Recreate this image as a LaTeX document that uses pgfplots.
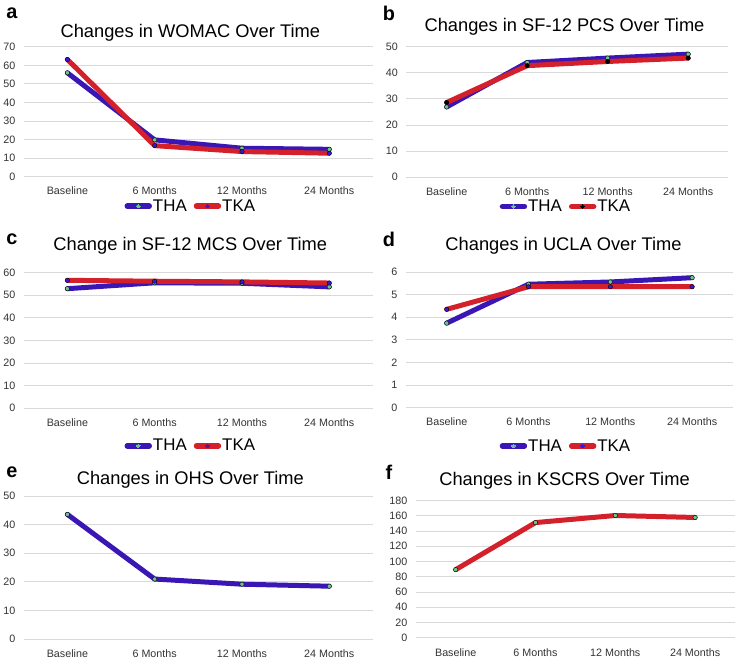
\documentclass[border=0pt]{standalone}
\usepackage{pgfplots}
\pgfplotsset{compat=1.18}
\usepackage{fontspec}
\setmainfont{Liberation Sans}

\definecolor{thablue}{HTML}{3A17B5}
\definecolor{tkared}{HTML}{D3202A}
\definecolor{dotgreen}{HTML}{6CC58A}
\definecolor{dotblue}{HTML}{3A17D0}
\definecolor{gridgray}{HTML}{D9D9D9}

% x = 0 Baseline, 1 = 6 months, 2 = 12 months, 3 = 24 months
\pgfplotstableread{
x  tha   tka
0  56.0  63.2
1  19.8  16.7
2  15.3  13.5
3  14.7  12.6
}\womac
\pgfplotstableread{
x  tha   tka
0  26.9  28.6
1  43.9  42.7
2  45.6  44.3
3  47.1  45.6
}\pcs
\pgfplotstableread{
x  tha   tka
0  52.9  56.6
1  55.5  56.2
2  55.3  55.9
3  53.7  55.4
}\mcs
\pgfplotstableread{
x  tha   tka
0  3.74  4.35
1  5.46  5.35
2  5.56  5.35
3  5.75  5.35
}\ucla
\pgfplotstableread{
x  tha
0  43.6
1  21.0
2  19.2
3  18.5
}\ohs
\pgfplotstableread{
x  tka
0  89.3
1  151.0
2  160.3
3  157.7
}\kscrs

\pgfplotsset{
  panel/.style={
    scale only axis, anchor=south west,
    xmin=-0.5, xmax=3.5, ymin=0,
    axis line style={draw=none}, tick style={draw=none},
    ymajorgrids, grid style={gridgray, line width=0.9bp},
    xtick={0,1,2,3},
    xticklabels={Baseline,6 Months,12 Months,24 Months},
    ticklabel style={font=\fontsize{10.8}{12}\selectfont, text=black!80},
    /pgf/number format/assume math mode=true,
    yticklabel style={xshift=-5bp},
    xticklabel style={yshift=-7bp},
    title style={font=\fontsize{18.4}{22}\selectfont, anchor=base},
    legend style={draw=none, fill=none, anchor=center, legend columns=2,
      font=\fontsize{17}{20}\selectfont, inner sep=0pt,
      nodes={inner xsep=1bp, inner ysep=1bp},
      /tikz/every even column/.append style={column sep=6bp}},
    clip=false,
  },
  thaline/.style={thablue, line width=5bp, line join=round, line cap=round, mark=none},
  tkaline/.style={tkared, line width=5bp, line join=round, line cap=round, mark=none},
  dots/.style={only marks, mark=*, mark size=2.2bp, mark options={draw=none, fill=#1}, forget plot},
  thaleg/.style={legend image code/.code={
      \draw[thablue, line width=5.5bp] (0bp,0bp) -- (22bp,0bp);
      \fill[dotgreen, line width=0pt] (11bp,0bp) circle[radius=1.8bp];}},
  tkaleg/.style={legend image code/.code={
      \draw[tkared, line width=5.5bp] (0bp,0bp) -- (22bp,0bp);
      \fill[#1, line width=0pt] (11bp,0bp) circle[radius=1.8bp];}},
}

\begin{document}
\begin{tikzpicture}
\path (0,0) rectangle (737bp,659bp);

% a
\begin{axis}[panel, at={(22bp,482bp)}, width=350bp, height=130bp,
  ymax=70, ytick={0,10,...,70},
  title={Changes in WOMAC Over Time}, title style={at={(0.477,1.027)}},
  legend style={at={(0.477,-0.228)}}]
\addplot[thaline, thaleg] table[x=x, y=tha] {\womac};
\addplot[tkaline, tkaleg=dotblue] table[x=x, y=tka] {\womac};
\addplot[dots=dotgreen] table[x=x, y=tha] {\womac};
\addplot[dots=dotblue] table[x=x, y=tka] {\womac};
\legend{THA,TKA}
\end{axis}

% b
\begin{axis}[panel, at={(405.6bp,481.3bp)}, width=322.8bp, height=131bp,
  ymax=50, ytick={0,10,...,50},
  title={Changes in SF-12 PCS Over Time}, title style={at={(0.491,1.072)}},
  legend style={at={(0.494,-0.224)}}]
\addplot[thaline, thaleg] table[x=x, y=tha] {\pcs};
\addplot[tkaline, tkaleg=black] table[x=x, y=tka] {\pcs};
\addplot[dots=dotgreen] table[x=x, y=tha] {\pcs};
\addplot[dots=black] table[x=x, y=tka] {\pcs};
\legend{THA,TKA}
\end{axis}

% c
\begin{axis}[panel, at={(22bp,249.7bp)}, width=350bp, height=136bp,
  ymax=60, ytick={0,10,...,60},
  title={Change in SF-12 MCS Over Time}, title style={at={(0.477,1.118)}},
  legend style={at={(0.477,-0.277)}}]
\addplot[thaline, thaleg] table[x=x, y=tha] {\mcs};
\addplot[tkaline, tkaleg=dotblue] table[x=x, y=tka] {\mcs};
\addplot[dots=dotgreen] table[x=x, y=tha] {\mcs};
\addplot[dots=dotblue] table[x=x, y=tka] {\mcs};
\legend{THA,TKA}
\end{axis}

% d
\begin{axis}[panel, at={(405bp,250.3bp)}, width=328bp, height=136bp,
  ymax=6, ytick={0,1,...,6},
  title={Changes in UCLA Over Time}, title style={at={(0.482,1.113)}},
  legend style={at={(0.488,-0.282)}}]
\addplot[thaline, thaleg] table[x=x, y=tha] {\ucla};
\addplot[tkaline, tkaleg=dotblue] table[x=x, y=tka] {\ucla};
\addplot[dots=dotgreen] table[x=x, y=tha] {\ucla};
\addplot[dots=dotblue] table[x=x, y=tka] {\ucla};
\legend{THA,TKA}
\end{axis}

% e
\begin{axis}[panel, at={(22bp,18.3bp)}, width=350bp, height=143.4bp,
  ymax=50, ytick={0,10,...,50},
  title={Changes in OHS Over Time}, title style={at={(0.477,1.039)}}]
\addplot[thaline] table[x=x, y=tha] {\ohs};
\addplot[dots=dotgreen] table[x=x, y=tha] {\ohs};
\end{axis}

% f
\begin{axis}[panel, at={(415bp,19.7bp)}, width=320bp, height=137.6bp,
  ymax=180, ytick={0,20,...,180},
  title={Changes in KSCRS Over Time}, title style={at={(0.466,1.065)}}]
\addplot[tkaline] table[x=x, y=tka] {\kscrs};
\addplot[dots=dotgreen] table[x=x, y=tka] {\kscrs};
\end{axis}

% panel letters
\begin{scope}[every node/.style={font=\fontsize{20}{24}\selectfont\bfseries, anchor=center}]
\node at (10bp,646bp) {a};
\node at (388bp,646bp) {b};
\node at (10bp,419bp) {c};
\node at (388bp,419bp) {d};
\node at (10bp,186bp) {e};
\node at (388bp,186bp) {f};
\end{scope}
\end{tikzpicture}
\end{document}
